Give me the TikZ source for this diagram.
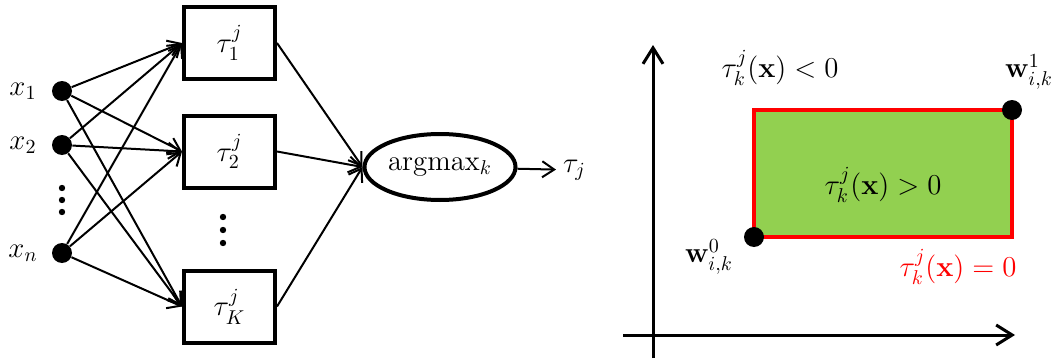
\documentclass[tikz,border=0pt]{standalone}
\usepackage{tikz}
\usetikzlibrary{shapes.geometric, arrows.meta}
\usepackage{amsmath}
\definecolor{RegGreen}{RGB}{146,208,80}
\definecolor{RegRed}{RGB}{255,0,0}

\begin{document}
\begin{tikzpicture}[x=0.5pt, y=-0.5pt, font=\Large,
          dot/.style={circle, fill=black, minimum size=10pt, inner sep=0pt},
          tbox/.style={rectangle, draw, line width=2pt, minimum width=45.5pt,
                       minimum height=36pt, inner sep=0pt},
          arr/.style={-{Straight Barb[length=6pt, width=8pt]}, line width=1pt},
          axis/.style={-{Straight Barb[length=8pt, width=10pt]}, line width=1.5pt},
          lbl/.style={inner sep=0pt}
        ]
        \useasboundingbox (0,0) rectangle (1057,364);

        % inputs
        \node[dot] (in1) at (62, 91) {};
        \node[dot] (in2) at (62, 145) {};
        \node[dot] (inn) at (62, 253) {};
        \node[lbl] (lx1) at (23, 91) {$x_1$};
        \node[lbl] (lx2) at (23, 145) {$x_2$};
        \node[lbl] (lxn) at (23, 253) {$x_n$};
        \foreach \y in {188, 200, 212}
          \fill (62, \y) circle (1.6pt);

        % classifiers
        \node[tbox] (t1) at (229.5, 43)    {$\tau^j_1$};
        \node[tbox] (t2) at (229.5, 151.5) {$\tau^j_2$};
        \node[tbox] (tK) at (229.5, 306.5) {$\tau^j_K$};
        \foreach \y in {217, 230, 243}
          \fill (223, \y) circle (1.6pt);

        \foreach \i in {in1, in2, inn}
          \foreach \t in {t1, t2, tK}
            \draw[arr] (\i) -- (\t.west);

        % argmax
        \node[ellipse, draw, line width=2pt, minimum width=75.5pt,
              minimum height=33pt, inner sep=0pt] (amax) at (440, 167)
              {argmax$_k$};
        \foreach \t in {t1, t2, tK}
          \draw[arr] (\t.east) -- (amax.west);
        \node[anchor=west] (tauj) at (556, 170) {$\tau_j$};
        \draw[arr] (amax) -- (tauj);

        % feature space
        \coordinate (ybot) at (653, 358);
        \coordinate (ytop) at (653, 45);
        \coordinate (xlft) at (623, 335);
        \coordinate (xrgt) at (1015, 335);
        \draw[axis] (ybot) -- (ytop);
        \draw[axis] (xlft) -- (xrgt);

        \coordinate (w0) at (754, 237);
        \coordinate (w1) at (1012, 110);
        \draw[fill=RegGreen, draw=RegRed, line width=2pt] (w0) rectangle (w1);
        \node[dot] (d0) at (w0) {};
        \node[dot] (d1) at (w1) {};

        \node[lbl] (neg) at (780, 68) {$\tau_k^j(\mathbf{x}) < 0$};
        \node[lbl] (pos) at (883, 185) {$\tau_k^j(\mathbf{x}) > 0$};
        \node[lbl, RegRed] (zer) at (958, 267) {$\tau_k^j(\mathbf{x}) = 0$};
        \node[lbl] (lw1) at (1029, 72) {$\mathbf{w}^1_{i,k}$};
        \node[lbl] (lw0) at (709, 257) {$\mathbf{w}^0_{i,k}$};
      \end{tikzpicture}
\end{document}
